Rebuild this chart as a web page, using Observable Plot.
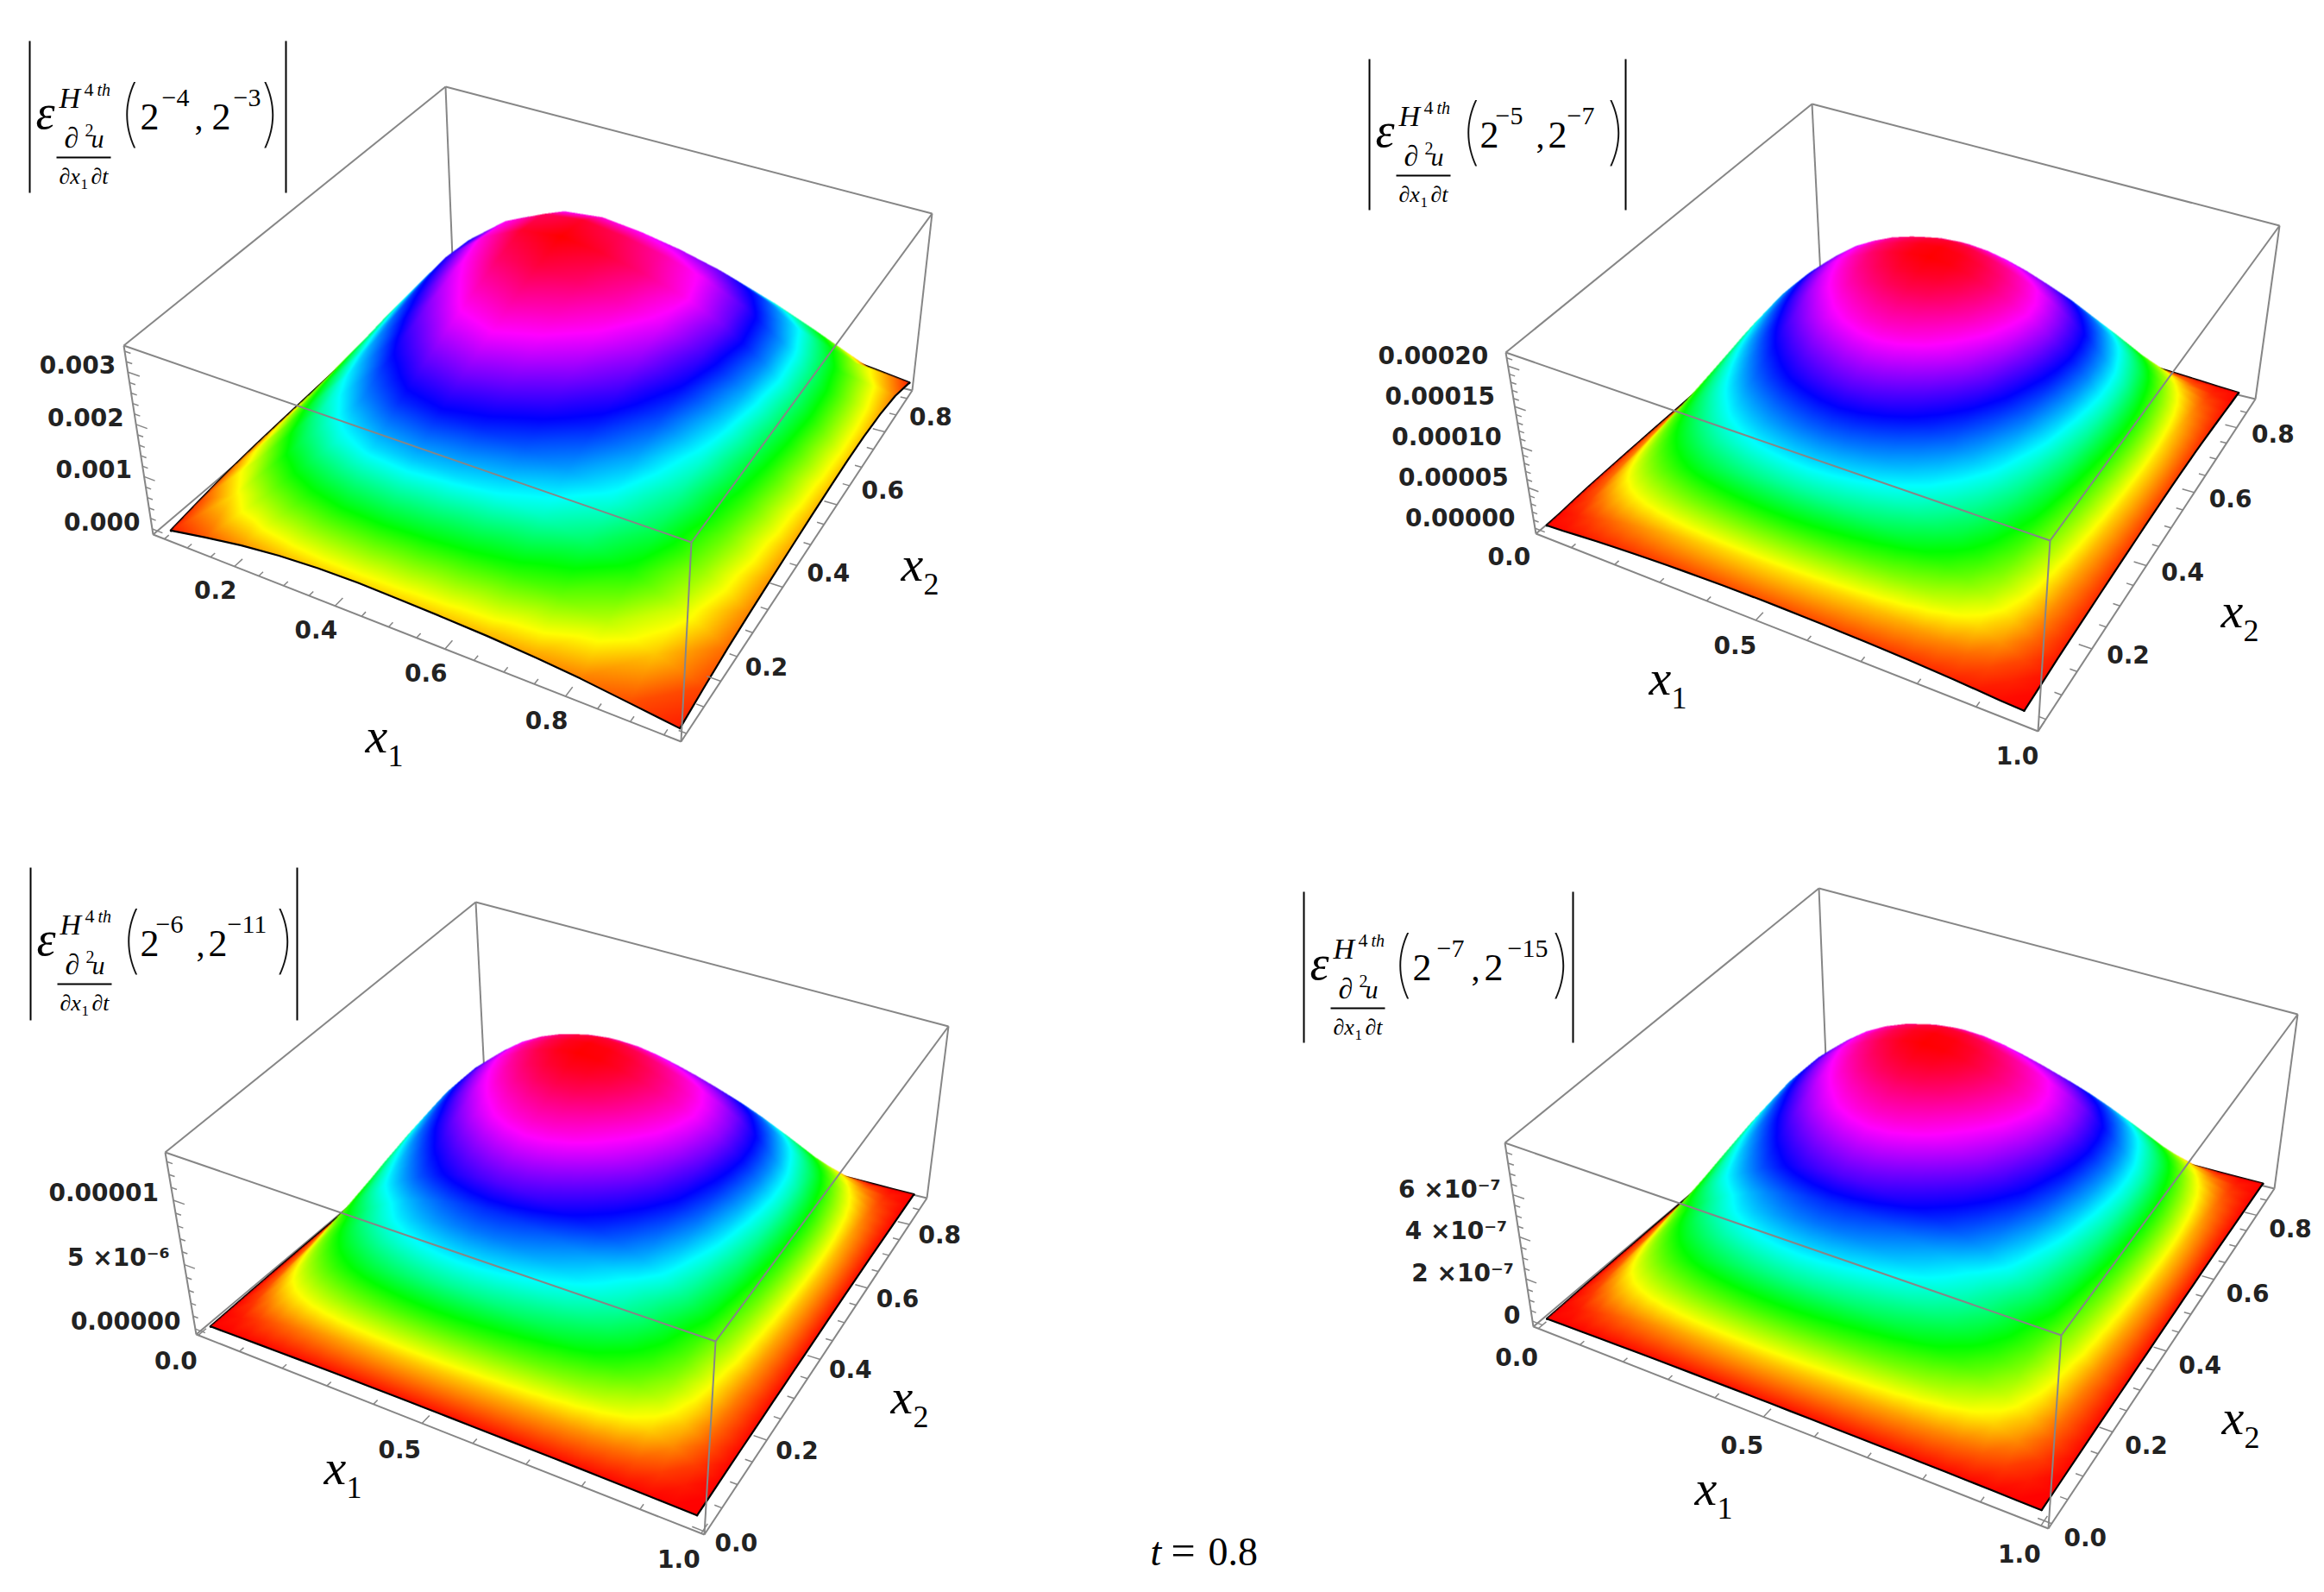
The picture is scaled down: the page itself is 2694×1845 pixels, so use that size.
<!DOCTYPE html>
<html><head><meta charset="utf-8">
<script src="https://cdn.jsdelivr.net/npm/d3@7"></script>
<script src="https://cdn.jsdelivr.net/npm/@observablehq/plot@0.6"></script>
<style>html,body{margin:0;background:#fff}</style></head>
<body><div id="chart"></div>
<script>
// Height profiles (fraction of the peak), along x1 and along x2.
const x1Profile1=[.13,.42,.68,.86,.97,1,.97,.92,.85,.74,.58,.36,.13];
const x2Profile1=[.14,.36,.54,.66,.75,.83,.90,.96,1,.97,.86,.62,.16];
const x1Profile2=[.04,.14,.29,.43,.55,.65,.74,.82,.88,.93,.965,.99,1,.99,.965,.93,.885,.83,.76,.68,.58,.46,.31,.15,.04];
const x2Profile2=[.05,.15,.31,.44,.53,.60,.66,.72,.77,.82,.87,.91,.95,.98,1,.995,.97,.91,.84,.74,.62,.48,.33,.17,.05];
const x1Profile3=[.01,.12,.28,.44,.57,.68,.77,.85,.91,.955,.985,1,.995,.975,.945,.91,.87,.82,.76,.68,.58,.46,.30,.13,.01];
const x2Profile3=[.01,.13,.30,.43,.52,.59,.64,.72,.77,.82,.87,.91,.95,.98,1,.995,.97,.91,.84,.74,.62,.48,.33,.17,.01];
const x1Profile4=[.01,.12,.28,.44,.57,.68,.77,.85,.91,.955,.985,1,.995,.975,.945,.91,.87,.82,.76,.68,.58,.46,.30,.13,.01];
const x2Profile4=[.01,.13,.30,.43,.52,.59,.64,.72,.77,.82,.87,.91,.95,.98,1,.995,.97,.91,.84,.74,.62,.48,.33,.17,.01];

const peakValues=[.0034,.00021,1.33e-5,8.2e-7];
const surfaceGain=[.89,1.0,1.0,.985];
const x1SurfaceRanges=[[.0625,.97],[.03,.97],[.016,.984],[.008,.992]];
const x2SurfaceRanges=[[.09,.92],[.04,.885],[.012,.875],[.006,.88]];
const x1BoxRanges=[[.025,.975],[.015,1],[-.005,1.005],[-.012,1.012]];
const x2BoxRanges=[[.085,.925],[.026,.896],[-.005,.89],[-.01,.89]];

const x1TickValues=[[.2,.4,.6,.8],[0,.5,1],[0,.5,1],[0,.5,1]];
const x1TickLabels=[["0.2","0.4","0.6","0.8"],["0.0","0.5","1.0"],["0.0","0.5","1.0"],["0.0","0.5","1.0"]];
const x2TickValues=[[.2,.4,.6,.8],[.2,.4,.6,.8],[0,.2,.4,.6,.8],[0,.2,.4,.6,.8]];
const x2TickLabels=[["0.2","0.4","0.6","0.8"],["0.2","0.4","0.6","0.8"],["0.0","0.2","0.4","0.6","0.8"],["0.0","0.2","0.4","0.6","0.8"]];
const x1MinorStep=[.05,.1,.1,.1];
const x2MinorStep=[.05,.05,.05,.05];
const zTickValues=[[0,.001,.002,.003],[0,.00005,.0001,.00015,.0002],[0,5e-6,1e-5],[0,2e-7,4e-7,6e-7]];
const zTickLabels=[["0.000","0.001","0.002","0.003"],["0.00000","0.00005","0.00010","0.00015","0.00020"],["0.00000","5 ×10⁻⁶","0.00001"],["0","2 ×10⁻⁷","4 ×10⁻⁷","6 ×10⁻⁷"]];
const zMinorStep=[.0002,.00001,1e-6,5e-8];

const superscriptsA=["−4","−5","−6","−7"];
const superscriptsB=["−3","−7","−11","−15"];

// Layout: corners of each plot box as drawn on the page
const boxCorners=[
 {BL:[177,619],BF:[789,859],BR:[1057,452],BB:[525,323],TL:[143,400],TF:[801,628],TR:[1080,247],TB:[516,100]},
 {BL:[1780,618],BF:[2362,847],BR:[2614,462],BB:[2111,340],TL:[1745,408],TF:[2376,626],TR:[2642,261],TB:[2100,120]},
 {BL:[227,1546],BF:[816,1778],BR:[1074,1388],BB:[562,1265],TL:[191,1335],TF:[829,1554],TR:[1099,1189],TB:[551,1045]},
 {BL:[1777,1537],BF:[2374,1771],BR:[2636,1377],BB:[2117,1250],TL:[1744,1324],TF:[2389,1547],TR:[2663,1175],TB:[2108,1029]}
];
const legendBox=[[34,47,297,176],[1587,68,297,175],[35,1005,309,177],[1511,1033,312,175]];
const legendStops=[[102,128,153,191,211,236,266],[104,128,146,193,207,229,273],[103,127,145,192,206,228,282],[101,126,154,194,209,236,285]];
const x1TitleAt=[[425,870],[1913,803],[377,1718],[1966,1742]];
const x2TitleAt=[[1046,671],[2576,725],[1034,1636],[2577,1660]];
const x1LabelOffset=[[-22,29],[-24,30],[-26,31],[-25,34]];
const x2LabelOffset=[[53,-16],[42,8],[35,13],[39,17]];
const zLabelOffset=[[-14,-7],[-23,-11],[-17,-8],[-14,-6]];
const hueDomain=[0,1/6,2/6,3/6,4/6,5/6,1];
const hueRange=["#ff0000","#ffff00","#00ff00","#00ffff","#0000ff","#ff00ff","#ff0000"];
const ink="#222", boxGray="#868686";

function homography(p0,p1,p2,p3){
  const dx1=p1[0]-p2[0],dx2=p3[0]-p2[0],sx=p0[0]-p1[0]+p2[0]-p3[0];
  const dy1=p1[1]-p2[1],dy2=p3[1]-p2[1],sy=p0[1]-p1[1]+p2[1]-p3[1];
  const den=dx1*dy2-dx2*dy1;
  const g=(sx*dy2-dx2*sy)/den,h=(dx1*sy-sx*dy1)/den;
  const a=p1[0]-p0[0]+g*p1[0],b=p3[0]-p0[0]+h*p3[0],d=p1[1]-p0[1]+g*p1[1],e=p3[1]-p0[1]+h*p3[1];
  return (u,v)=>{const q=g*u+h*v+1;return [(a*u+b*v+p0[0])/q,(d*u+e*v+p0[1])/q];};
}
const projectors=boxCorners.map(c=>{
  const bottom=homography(c.BL,c.BF,c.BR,c.BB),top=homography(c.TL,c.TF,c.TR,c.TB);
  return (u,v,w)=>{const p=bottom(u,v),q=top(u,v);return [p[0]+(q[0]-p[0])*w,p[1]+(q[1]-p[1])*w];};
});

// custom raster fill: Gouraud triangles of the height field, painted back to front
function surfaceInterpolator(n1,n2){
  return (index,w,h,X,Y,V)=>{
    const out=new Float64Array(w*h).fill(NaN);
    const tri=(a,b,c)=>{
      const ax=X[a],ay=Y[a],bx=X[b],by=Y[b],cx=X[c],cy=Y[c];
      const den=(by-cy)*(ax-cx)+(cx-bx)*(ay-cy);
      if(Math.abs(den)<1e-9)return;
      const x0=Math.max(0,Math.floor(Math.min(ax,bx,cx))),x1=Math.min(w-1,Math.ceil(Math.max(ax,bx,cx)));
      const y0=Math.max(0,Math.floor(Math.min(ay,by,cy))),y1=Math.min(h-1,Math.ceil(Math.max(ay,by,cy)));
      for(let y=y0;y<=y1;y++)for(let x=x0;x<=x1;x++){
        const px=x+.5,py=y+.5;
        const l1=((by-cy)*(px-cx)+(cx-bx)*(py-cy))/den;
        const l2=((cy-ay)*(px-cx)+(ax-cx)*(py-cy))/den;
        const l3=1-l1-l2;
        if(l1>=-1e-6&&l2>=-1e-6&&l3>=-1e-6)out[y*w+x]=l1*V[a]+l2*V[b]+l3*V[c];
      }
    };
    for(let i=0;i<n1-1;i++)for(let j=n2-2;j>=0;j--){
      const a=i*n2+j,b=(i+1)*n2+j,c=(i+1)*n2+j+1,d=i*n2+j+1;
      tri(d,a,c);tri(a,b,c);
    }
    return out;
  };
}

const profiles=[[x1Profile1,x2Profile1],[x1Profile2,x2Profile2],[x1Profile3,x2Profile3],[x1Profile4,x2Profile4]];
const backLines=[],frontLines=[],ticks=[],xLabels=[],zLabels=[],backEdges=[],frontEdges=[];
const sans="DejaVu Sans",serif="Liberation Serif";
const rastersMarks=[];
boxCorners.forEach((c,p)=>{
  const P=projectors[p];
  const [aLo,aHi]=x1BoxRanges[p],[bLo,bHi]=x2BoxRanges[p];
  const [sa0,sa1]=x1SurfaceRanges[p],[sb0,sb1]=x2SurfaceRanges[p];
  const toU=x=>(x-aLo)/(aHi-aLo),toV=x=>(x-bLo)/(bHi-bLo);
  const [pa,pb]=profiles[p];
  const na=pa.length,nb=pb.length;
  const heightFrac=f=>.03+surfaceGain[p]*f;
  const ax=d3.range(na).map(i=>toU(sa0+(sa1-sa0)*i/(na-1)));
  const bx=d3.range(nb).map(j=>toV(sb0+(sb1-sb0)*j/(nb-1)));
  const pts=[];
  for(let i=0;i<na;i++)for(let j=0;j<nb;j++){
    const f=pa[i]*pb[j];const q=P(ax[i],bx[j],heightFrac(f));
    pts.push({px:q[0],py:q[1],f});
  }
  const xs=Object.values(c).map(d=>d[0]),ys=Object.values(c).map(d=>d[1]);
  rastersMarks.push(Plot.raster(pts,{x:"px",y:"py",fill:"f",
    x1:Math.floor(d3.min(xs))-4,x2:Math.ceil(d3.max(xs))+4,y1:Math.floor(d3.min(ys))-4,y2:Math.ceil(d3.max(ys))+4,
    pixelSize:.5,interpolate:surfaceInterpolator(na,nb)}));
  // surface border lines
  const push=(arr,id,list)=>list.forEach(q=>arr.push({px:q[0],py:q[1],id:p+"-"+id}));
  push(backEdges,"l",d3.range(nb).map(j=>P(ax[0],bx[j],heightFrac(pa[0]*pb[j]))));
  push(backEdges,"r",d3.range(na).map(i=>P(ax[i],bx[nb-1],heightFrac(pa[i]*pb[nb-1]))));
  push(frontEdges,"a",d3.range(na).map(i=>P(ax[i],bx[0],heightFrac(pa[i]*pb[0]))));
  push(frontEdges,"b",d3.range(nb).map(j=>P(ax[na-1],bx[j],heightFrac(pa[na-1]*pb[j]))));
  // box
  const seg=(arr,A,B)=>arr.push({x1:A[0],y1:A[1],x2:B[0],y2:B[1]});
  seg(backLines,c.TB,c.BB);seg(backLines,c.BL,c.BB);seg(backLines,c.BR,c.BB);
  seg(backLines,c.TL,c.TB);seg(backLines,c.TB,c.TR);seg(backLines,c.TR,c.BR);
  seg(frontLines,c.TL,c.TF);seg(frontLines,c.TF,c.TR);seg(frontLines,c.TF,c.BF);seg(frontLines,c.TL,c.BL);
  seg(frontLines,c.BL,c.BF);seg(frontLines,c.BF,c.BR);
  // ticks
  const wz=z=>.03+.94*z/peakValues[p];
  const tick=(A,B)=>ticks.push({x1:A[0],y1:A[1],x2:B[0],y2:B[1]});
  const inRange=(step,lo,hi)=>d3.range(Math.ceil(lo/step-1e-9),Math.floor(hi/step+1e-9)+1).map(k=>k*step);
  inRange(x1MinorStep[p],Math.max(0,aLo),Math.min(1,aHi)).forEach(x=>{
    const major=x1TickValues[p].some(t=>Math.abs(t-x)<1e-6);
    tick(P(toU(x),0,0),P(toU(x),major?.022:.012,0));
  });
  inRange(x2MinorStep[p],Math.max(0,bLo),bHi).forEach(x=>{
    const major=x2TickValues[p].some(t=>Math.abs(t-x)<1e-6);
    tick(P(1,toV(x),0),P(major?.978:.988,toV(x),0));
  });
  inRange(zMinorStep[p],0,peakValues[p]).forEach(z=>{
    const major=zTickValues[p].some(t=>Math.abs(t-z)<1e-12);
    tick(P(0,0,wz(z)),P(major?.024:.012,0,wz(z)));
  });
  x1TickValues[p].forEach((x,i)=>{const q=P(toU(x),0,0);xLabels.push({px:q[0]+x1LabelOffset[p][0],py:q[1]+x1LabelOffset[p][1],t:x1TickLabels[p][i]});});
  x2TickValues[p].forEach((x,i)=>{const q=P(1,toV(x),0);xLabels.push({px:q[0]+x2LabelOffset[p][0],py:q[1]+x2LabelOffset[p][1],t:x2TickLabels[p][i]});});
  zTickValues[p].forEach((z,i)=>{const q=P(0,0,wz(z));zLabels.push({px:q[0]+zLabelOffset[p][0],py:q[1]+zLabelOffset[p][1],t:zTickLabels[p][i]});});
});

// legends
const italics=[],uprights=[],parens=[],legendBars=[];
legendBox.forEach((b,p)=>{
  const [L,T,wd,ht]=b,s=legendStops[p];
  legendBars.push({x1:L,y1:T,x2:L,y2:T+ht},{x1:L+wd,y1:T,x2:L+wd,y2:T+ht},{x1:L+31,y1:T+135,x2:L+94,y2:T+135});
  italics.push({x:L+7,y:T+101,t:"ε",s:56},{x:L+34,y:T+77,t:"H",s:34},{x:L+78,y:T+63,t:"th",s:20},
    {x:L+40,y:T+123,t:"∂",s:34},{x:L+71,y:T+123,t:"u",s:30},{x:L+34,y:T+165,t:"∂x",s:26},{x:L+71,y:T+165,t:"∂t",s:26});
  uprights.push({x:L+63,y:T+63,t:"4",s:22},{x:L+64,y:T+110,t:"2",s:20},{x:L+59,y:T+171,t:"1",s:17},
    {x:L+s[1],y:T+102,t:"2",s:44},{x:L+s[2],y:T+75,t:superscriptsA[p],s:30},
    {x:L+s[3],y:T+102,t:",",s:40},{x:L+s[4],y:T+102,t:"2",s:44},{x:L+s[5],y:T+75,t:superscriptsB[p],s:30});
  parens.push({x:L+s[0],y:T+112,t:"("},{x:L+s[6],y:T+112,t:")"});
});
x1TitleAt.forEach((a)=>{italics.push({x:a[0]-2,y:a[1]+1,t:"x",s:58});uprights.push({x:a[0]+24,y:a[1]+17,t:"1",s:36});});
x2TitleAt.forEach((a)=>{italics.push({x:a[0]-2,y:a[1]+1,t:"x",s:58});uprights.push({x:a[0]+24,y:a[1]+17,t:"2",s:36});});
italics.push({x:1333,y:1813,t:"t",s:46});
uprights.push({x:1357,y:1813,t:"=",s:50},{x:1400,y:1813,t:"0.8",s:46});

const chart=Plot.plot({
  width:2694,height:1845,margin:0,
  x:{domain:[0,2694],range:[0,2694],axis:null},
  y:{domain:[0,1845],range:[0,1845],axis:null},
  color:{type:"linear",domain:hueDomain,range:hueRange},
  style:{background:"#fff"},
  marks:[
    Plot.link(backLines,{x1:"x1",y1:"y1",x2:"x2",y2:"y2",stroke:boxGray,strokeWidth:2}),
    Plot.line(backEdges,{x:"px",y:"py",z:"id",stroke:"#000",strokeWidth:3}),
    ...rastersMarks,
    Plot.line(frontEdges,{x:"px",y:"py",z:"id",stroke:"#000",strokeWidth:2.2}),
    Plot.link(ticks,{x1:"x1",y1:"y1",x2:"x2",y2:"y2",stroke:boxGray,strokeWidth:1.5}),
    Plot.link(frontLines,{x1:"x1",y1:"y1",x2:"x2",y2:"y2",stroke:boxGray,strokeWidth:2}),
    Plot.text(xLabels,{x:"px",y:"py",text:"t",fontFamily:sans,fontWeight:"bold",fontSize:28,fill:ink}),
    Plot.text(zLabels,{x:"px",y:"py",text:"t",textAnchor:"end",fontFamily:sans,fontWeight:"bold",fontSize:28,fill:ink}),
    Plot.link(legendBars,{x1:"x1",y1:"y1",x2:"x2",y2:"y2",stroke:"#000",strokeWidth:2}),
    Plot.text(parens,{x:"x",y:"y",text:"t",fontSize:84,fontFamily:"Inter",fontWeight:100,textAnchor:"start",lineAnchor:"bottom",fill:"#111"}),
    Plot.text(italics,{x:"x",y:"y",text:"t",fontSize:"s",fontFamily:serif,fontStyle:"italic",textAnchor:"start",lineAnchor:"bottom",fill:"#000"}),
    Plot.text(uprights,{x:"x",y:"y",text:"t",fontSize:"s",fontFamily:serif,textAnchor:"start",lineAnchor:"bottom",fill:"#000"})
  ]
});
document.getElementById("chart").append(chart);
</script></body></html>
